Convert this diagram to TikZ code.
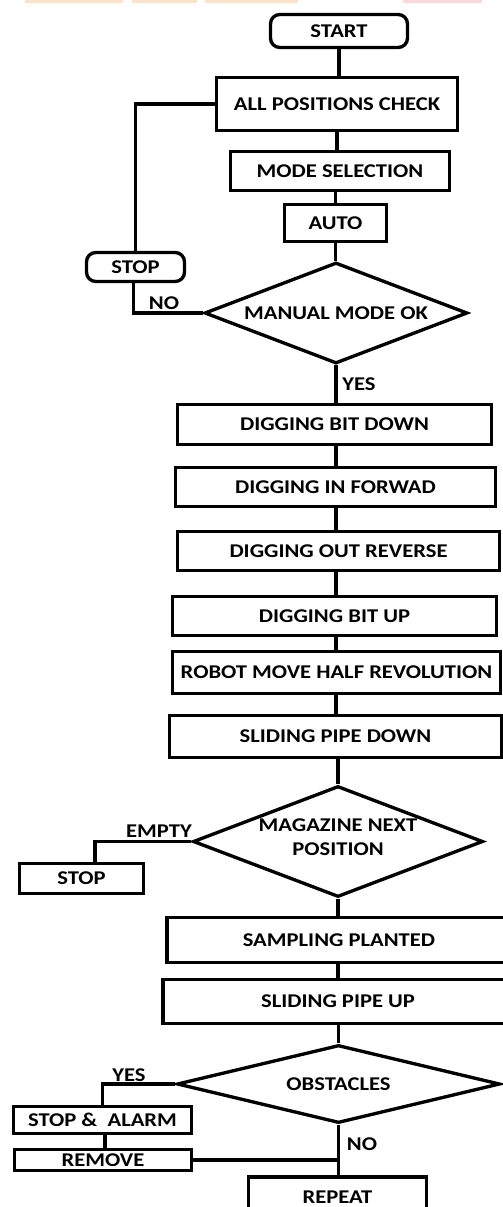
\documentclass[tikz,border=0pt]{standalone}
\usepackage{fontspec}
\newfontfamily\flowfont[FakeStretch=1.16]{Carlito}
\usetikzlibrary{shapes.geometric,calc}
\definecolor{bandA}{RGB}{253,226,200}
\definecolor{bandB}{RGB}{252,216,214}
\begin{document}
\begin{tikzpicture}[x=0.75pt,y=-0.75pt,
  every path/.style={line width=2.5pt},
  txt/.style={font=\flowfont\bfseries\fontsize{14.6}{18}\selectfont},
  proc/.style 2 args={draw,rectangle,inner sep=0pt,txt,
    minimum width=#1*0.75pt,minimum height=#2*0.75pt},
  term/.style 2 args={proc={#1}{#2},rounded corners=7pt},
  dec/.style 2 args={draw,diamond,inner sep=0pt,
    minimum width=#1*0.75pt,minimum height=#2*0.75pt},
  lbl/.style={txt,inner sep=0pt,align=center},
  flow/.style={draw,line width=2.5pt}]
\useasboundingbox (0,0) rectangle (503,1207);
% header strip
\fill[bandA] (25,0) rectangle (123,3);
\fill[bandA] (132,0) rectangle (197,3);
\fill[bandA] (205,0) rectangle (298,3);
\fill[bandB] (403,0) rectangle (482,3);

% main column
\node[term={137}{33}] (start) at (339,31) {START};
\node[proc={241}{53}] (apc) at (337,104) {ALL POSITIONS CHECK};
\node[proc={219}{39}] (mode) at (340,171) {MODE SELECTION};
\node[proc={102}{37}] (auto) at (335.5,223) {AUTO};
\node[term={98}{29}] (stopa) at (135.5,267) {STOP};
\node[dec={263}{101},label={[lbl]center:MANUAL MODE OK}] (manual) at (336,313) {};
\node[proc={314}{40}] (dbd) at (334.5,424.5) {DIGGING BIT DOWN};
\node[proc={320}{39}] (dif) at (335.5,487) {DIGGING IN FORWAD};
\node[proc={322}{39}] (dor) at (338.5,551) {DIGGING OUT REVERSE};
\node[proc={324}{39}] (dbu) at (334.5,616) {DIGGING BIT UP};
\node[proc={328}{42}] (rmh) at (336.5,672.5) {ROBOT MOVE HALF REVOLUTION};
\node[proc={332}{42}] (spd) at (335.5,736.5) {SLIDING PIPE DOWN};
\node[dec={290}{111},label={[lbl,yshift=3pt]center:MAGAZINE NEXT\\POSITION}] (mag) at (338,841.5) {};
\node[proc={124}{30}] (stopb) at (81.5,878.5) {STOP};
\node[proc={344}{45}] (spl) at (339,940) {SAMPLING PLANTED};
\node[proc={350}{44}] (spu) at (338,1001.5) {SLIDING PIPE UP};
\node[dec={323}{78},label={[lbl]center:OBSTACLES}] (obs) at (338.5,1084) {};
\node[proc={178}{27}] (alarm) at (102.5,1120) {STOP \&\ \ ALARM};
\node[proc={177}{21}] (remove) at (103,1160) {REMOVE};
\node[proc={178}{40}] (repeat) at (337.5,1197) {REPEAT};

% branch labels
\node[lbl] (lno1) at (164,303.5) {NO};
\node[lbl] (lyes1) at (359,384) {YES};
\node[lbl] (lempty) at (159,831) {EMPTY};
\node[lbl] (lyes2) at (129,1075) {YES};
\node[lbl] (lno2) at (362,1144) {NO};

% connectors
\draw[flow] (start.south) -- (start.south |- apc.north);
\draw[flow] (apc.south) -- (apc.south |- mode.north);
\draw[flow] (auto.north |- mode.south) -- (auto.north);
\draw[flow] (auto.south) -- (auto.south |- manual.north);
\draw[flow] (manual.west) -| ($(stopa.south)+(-2,0)$);
\draw[flow] (stopa.north) |- (apc.west);
\draw[flow] (manual.south) -- (manual.south |- dbd.north);
\draw[flow] (manual.south |- dbd.south) -- (manual.south |- dif.north);
\draw[flow] (manual.south |- dif.south) -- (manual.south |- dor.north);
\draw[flow] (manual.south |- dor.south) -- (manual.south |- dbu.north);
\draw[flow] (manual.south |- dbu.south) -- (manual.south |- rmh.north);
\draw[flow] (manual.south |- rmh.south) -- (manual.south |- spd.north);
\draw[flow] (mag.north |- spd.south) -- (mag.north);
\draw[flow] (mag.west) -| ($(stopb.north)+(13.5,0)$);
\draw[flow] (mag.south) -- (mag.south |- spl.north);
\draw[flow] (mag.south |- spl.south) -- (mag.south |- spu.north);
\draw[flow] (obs.north |- spu.south) -- (obs.north);
\draw[flow] (obs.west) -| (alarm.north);
\draw[flow] ($(alarm.south)+(2.5,0)$) -- ($(remove.north)+(2,0)$);
\draw[flow] (obs.south) -- (obs.south |- repeat.north);
\draw[flow] (remove.east) -- (obs.south |- remove.east);
\end{tikzpicture}
\end{document}
